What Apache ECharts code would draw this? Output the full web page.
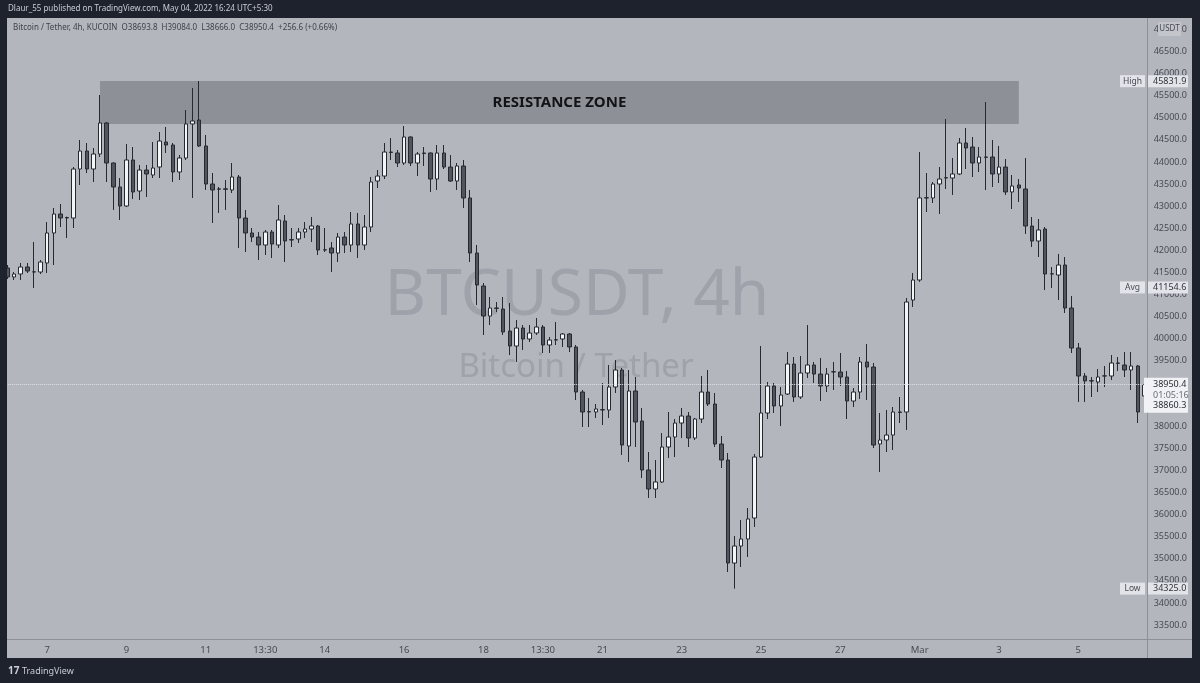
<!DOCTYPE html>
<html><head><meta charset="utf-8">
<script src="https://cdn.jsdelivr.net/npm/echarts@6/dist/echarts.min.js"></script>
<style>html,body{margin:0;padding:0;background:#1e222d;}#c{width:1200px;height:683px;}</style>
</head><body><div id="c"></div>
<script>
// ---- data ----
const symbolTitle = 'Bitcoin / Tether, 4h, KUCOIN';
const publishLine = 'Dlaur_55 published on TradingView.com, May 04, 2022 16:24 UTC+5:30';
const watermarkMain = 'BTCUSDT, 4h';
const watermarkSub = 'Bitcoin / Tether';
const firstCandle = [2022, 1, 6, 1, 30]; // Feb 6 01:30 (chart time, UTC+5:30)
const candleHours = 4;
// [open, close, low, high]
const ohlc = [
[41595,41391,41346,41663],[41391,41459,41323,41504],[41459,41618,41323,41709],[41618,41527,41482,41709],
[41504,41510,41142,42185],[41504,41731,41459,41777],[41709,42389,41482,42638],[42389,42820,41663,42956],
[42820,42729,42525,43047],[42740,42730,42275,42760],[42729,43840,42502,43885],[43840,44248,43477,44498],
[44248,43840,43749,44430],[43840,44180,43545,44316],[44180,44883,44112,45518],[44883,43976,43545,44906],
[43976,43432,42911,43990],[43432,43001,42684,43636],[43001,44044,42979,44407],[44044,43319,43160,44339],
[43341,43817,43137,43931],[43817,43727,43205,43931],[43704,43863,43636,44452],[43885,44475,43636,44679],
[44452,44384,44203,44793],[44384,43772,43545,44430],[43772,44089,43591,44157],[44089,44861,44044,45178],
[44861,44929,43183,45677],[44951,44362,44339,45835],[44362,43500,43364,44611],[43500,43364,42616,43749],
[43380,43390,42843,43432],[43390,43380,42911,43591],[43364,43659,43296,43976],[43659,42729,42049,43704],
[42729,42389,41958,42911],[42389,42298,42185,42502],[42298,42117,41777,42411],[42117,42411,41890,42457],
[42411,42139,41822,42457],[42117,42684,42049,43024],[42661,42207,41731,42797],[42230,42240,42071,42502],
[42253,42411,42162,42502],[42411,42479,42275,42638],[42479,42547,42185,42752],[42547,42003,41890,42570],
[42003,42010,41958,42502],[42049,41935,41504,42185],[41935,42298,41731,42389],[42298,42117,41935,42411],
[42117,42593,41958,42865],[42593,42117,41822,42843],[42117,42525,42003,42797],[42525,43545,42411,43659],
[43568,43681,43409,43817],[43681,44225,43613,44430],[44225,44215,44044,44543],[44203,43976,43885,44271],
[43976,44566,43931,44815],[44566,43976,43908,44580],[43976,44180,43681,44225],[44190,44203,43908,44339],
[44203,43613,43319,44215],[43613,44203,43364,44384],[44203,43885,43840,44384],[43885,43568,43545,44157],
[43568,43908,43364,43976],[43908,43183,42956,44044],[43183,41935,41731,43364],[41935,41210,40756,42117],
[41187,40506,40076,41255],[40506,40688,40302,40937],[40688,40680,40597,40824],[40665,40144,40076,40937],
[40166,39826,39622,40801],[39826,40234,39464,40416],[40234,39985,39736,40302],[39985,40121,39917,40302],
[40121,40257,40076,40461],[40257,39849,39668,40302],[39849,39962,39668,40030],[39962,39970,39849,40370],
[39985,40098,39804,40121],[40098,39804,39690,40121],[39804,38783,38602,39849],[38783,38330,37990,38829],
[38330,38340,37990,38647],[38330,38398,38194,38511],[38375,38385,38035,38987],[38375,38897,38194,39396],
[38897,39282,38761,39509],[39282,37581,37355,39328],[37559,38806,37196,39282],[38806,38103,37536,39123],
[38126,37015,36833,38421],[37015,36584,36380,37423],[36584,36743,36380,37241],[36743,37536,36720,37853],
[37536,37763,37287,38330],[37763,38080,37309,38171],[38080,38239,37740,38421],[38239,37740,37536,38330],
[37740,38171,37695,38194],[38171,38783,38080,39146],[38783,38511,38466,39282],[38511,37604,37536,38761],
[37604,37241,37060,37786],[37241,34905,34701,37400],[34905,35291,34325,35518],[35291,35450,34815,35881],
[35450,35904,35042,36153],[35926,37309,35722,37377],[37309,38307,37287,39826],[38307,38919,38171,39010],
[38919,38466,38307,38987],[38466,38715,38012,38897],[38738,39418,38715,39690],[39418,38670,38557,39577],
[38670,39214,38625,39600],[39214,39396,39101,40302],[39396,39191,38987,39464],[39191,38919,38579,39554],
[38919,39191,38783,39328],[39237,39245,38829,39464],[39237,39123,38919,39668],[39123,38579,38171,39260],
[38579,38783,38443,38874],[38783,39464,38625,39577],[39464,39350,38602,39872],[39350,37581,37513,39441],
[37604,37695,36969,38307],[37695,37808,37423,38375],[37808,38330,37468,38443],[38330,38320,38080,38670],
[38330,40824,37922,40915],[40869,41323,40711,41482],[41323,43183,41280,44225],[43183,43190,42865,43749],
[43183,43500,43069,43545],[43500,43613,42820,43885],[43636,43645,43387,44974],[43636,43727,43251,44089],
[43727,44430,43704,44543],[44430,44316,43840,44770],[44339,43976,43659,44566],[43976,44112,43772,44339],
[44112,44105,43364,45359],[44112,43727,43432,44498],[43727,43885,43523,44362],[43885,43319,43251,44067],
[43319,43455,42933,43704],[43477,43409,43092,43613],[43387,42547,42366,44089],[42547,42207,42071,42752],
[42207,42457,41845,42706],[42479,41459,41096,42525],[41459,41465,41142,41618],[41436,41663,40869,41914],
[41663,40688,40575,41845],[40688,39781,39668,40960],[39781,39146,38557,39894],[39146,39033,38557,39214],
[39033,39040,38670,39123],[39010,39123,38783,39305],[39146,39150,38897,39373],[39146,39441,39055,39622],
[39441,39435,39260,39577],[39396,39282,39123,39690],[39282,39373,38829,39690],[39373,38330,38080,39396],
[38693.8,38950.4,38666.0,39084.0]
];
const lastChange = [256.6, 0.66];
const countdown = '01:05:16';
const secondPrice = 38860.3;
const statHigh = 45831.9, statAvg = 41154.6, statLow = 34325.0;
const zoneFrom = 14, zoneTo = 153, zoneHigh = 45835, zoneLow = 44861;
const zoneText = 'RESISTANCE ZONE';
const tickLabels = {
 '02-07 01:30':'7','02-09 01:30':'9','02-11 01:30':'11','02-12 13:30':'13:30','02-14 01:30':'14',
 '02-16 01:30':'16','02-18 01:30':'18','02-19 13:30':'13:30','02-21 01:30':'21','02-23 01:30':'23',
 '02-25 01:30':'25','02-27 01:30':'27','03-01 01:30':'Mar','03-03 01:30':'3','03-05 01:30':'5'
};
const priceMin = 33000, priceMax = 47500, priceStep = 500;

// ---- categories ----
const pad = n => String(n).padStart(2, '0');
const t0 = Date.UTC(...firstCandle);
const categories = ohlc.map((_, i) => {
  const d = new Date(t0 + i * candleHours * 3600000);
  return pad(d.getUTCMonth() + 1) + '-' + pad(d.getUTCDate()) + ' ' + pad(d.getUTCHours()) + ':' + pad(d.getUTCMinutes());
});
const last = ohlc[ohlc.length - 1];

const FONT = '"Noto Sans", sans-serif';
const BG = '#b4b6be', FRAME = '#1e222d', AXIS = '#8d9098', TXT = '#474a53';

const chart = echarts.init(document.getElementById('c'), null, {renderer: 'canvas'});
const baseGraphic = [
  {type: 'text', z: 0, silent: true,
   style: {text: watermarkMain, x: 577, y: 297, align: 'center', verticalAlign: 'middle', fill: '#9fa2aa', font: '64px ' + FONT}},
  {type: 'text', z: 0, silent: true,
   style: {text: watermarkSub, x: 576, y: 368, align: 'center', verticalAlign: 'middle', fill: '#9fa2aa', font: '33px ' + FONT}}
];
const option = {
  backgroundColor: BG,
  animation: false,
  grid: {left: 4.2, right: 52.3, top: 7.6, bottom: 35.95, outerBoundsMode: 'none'},
  xAxis: {
    type: 'category', data: categories, boundaryGap: true, offset: -8.05,
    axisLine: {show: true, lineStyle: {color: AXIS, width: 1}},
    axisTick: {show: false},
    splitLine: {show: false},
    axisLabel: {
      interval: (idx, val) => Object.prototype.hasOwnProperty.call(tickLabels, val),
      formatter: val => tickLabels[val] || '',
      color: TXT, fontSize: 9.5, fontFamily: FONT, margin: 6
    }
  },
  yAxis: {
    type: 'value', position: 'right', min: priceMin, max: priceMax, interval: priceStep,
    axisLine: {show: true, lineStyle: {color: AXIS, width: 1}},
    axisTick: {show: false},
    splitLine: {show: false},
    axisLabel: {
      formatter: v => v.toFixed(1), color: TXT, fontSize: 9, fontFamily: FONT, margin: 6,
      showMinLabel: false, showMaxLabel: false
    }
  },
  series: [{
    type: 'candlestick',
    data: ohlc,
    barWidth: 4,
    itemStyle: {
      color: '#f4f5f7', color0: '#52555e',
      borderColor: '#26292f', borderColor0: '#26292f', borderWidth: 1
    },
    markLine: {
      silent: true, symbol: ['none', 'none'], animation: false,
      label: {show: false},
      lineStyle: {type: 'dotted', color: '#dfe1e6', width: 1},
      data: [{yAxis: last[1]}]
    },
    markArea: {
      silent: true,
      itemStyle: {color: '#8e9097'},
      label: {show: true, position: 'inside', color: '#121317', fontSize: 15, fontWeight: 'bold', fontFamily: FONT},
      data: [[{name: zoneText, xAxis: categories[zoneFrom], yAxis: zoneHigh}, {xAxis: categories[zoneTo], yAxis: zoneLow}]]
    }
  }],
  graphic: baseGraphic
};
chart.setOption(option);

const py = v => chart.convertToPixel({yAxisIndex: 0}, v);
const g = [];
// frame
g.push({type: 'rect', z: 100, shape: {x: 0, y: 0, width: 1200, height: 18}, style: {fill: FRAME}});
g.push({type: 'rect', z: 100, shape: {x: 0, y: 0, width: 7, height: 683}, style: {fill: FRAME}});
g.push({type: 'rect', z: 100, shape: {x: 0, y: 658, width: 1200, height: 25}, style: {fill: FRAME}});
g.push({type: 'rect', z: 100, shape: {x: 1192, y: 0, width: 8, height: 683}, style: {fill: FRAME}});
g.push({type: 'line', z: 99, shape: {x1: 1147, y1: 639.5, x2: 1192, y2: 639.5}, style: {stroke: AXIS, lineWidth: 1}});
g.push({type: 'line', z: 99, shape: {x1: 1147.5, y1: 639, x2: 1147.5, y2: 658}, style: {stroke: AXIS, lineWidth: 1}});
// header texts
g.push({type: 'text', z: 101, style: {text: publishLine, x: 8, y: 9, verticalAlign: 'middle', fill: '#c9ccd4', font: '8px ' + FONT}});
const legendText = symbolTitle + '  O' + last[0].toFixed(1) + '  H' + last[3].toFixed(1) + '  L' + last[2].toFixed(1) +
  '  C' + last[1].toFixed(1) + '  +' + lastChange[0].toFixed(1) + ' (+' + lastChange[1].toFixed(2) + '%)';
g.push({type: 'text', z: 101, style: {text: legendText, x: 13, y: 28, verticalAlign: 'middle', fill: '#3f424b', font: '8px ' + FONT}});
// logo
g.push({type: 'text', z: 101, style: {text: '17', x: 8, y: 671, verticalAlign: 'middle', fill: '#c9ccd4', font: 'bold 10px ' + FONT}});
g.push({type: 'text', z: 101, style: {text: 'TradingView', x: 22, y: 671, verticalAlign: 'middle', fill: '#c9ccd4', font: '9px ' + FONT}});
// USDT box
g.push({type: 'rect', z: 90, shape: {x: 1158, y: 22, width: 23, height: 14}, style: {fill: '#c3c5cb'}});
g.push({type: 'text', z: 91, style: {text: 'USDT', x: 1169.5, y: 29, align: 'center', verticalAlign: 'middle', fill: TXT, font: '8px ' + FONT}});
// stat tags
function tag(name, v) {
  const y = py(v);
  g.push({type: 'rect', z: 90, shape: {x: 1120, y: y - 6, width: 25, height: 12}, style: {fill: '#e2e4e9'}});
  g.push({type: 'text', z: 91, style: {text: name, x: 1132.5, y: y, align: 'center', verticalAlign: 'middle', fill: TXT, font: '8.5px ' + FONT}});
  g.push({type: 'rect', z: 90, shape: {x: 1148, y: y - 6, width: 40, height: 12}, style: {fill: '#e2e4e9'}});
  g.push({type: 'text', z: 91, style: {text: v.toFixed(1), x: 1153, y: y, verticalAlign: 'middle', fill: '#30333b', font: '9px ' + FONT}});
}
tag('High', statHigh); tag('Avg', statAvg); tag('Low', statLow);
// last price box
const yl = py(last[1]);
g.push({type: 'rect', z: 90, shape: {x: 1144, y: yl - 7, width: 44, height: 35}, style: {fill: '#f1f2f5'}});
g.push({type: 'text', z: 91, style: {text: last[1].toFixed(1), x: 1153, y: yl, verticalAlign: 'middle', fill: '#2a2d35', font: '9px ' + FONT}});
g.push({type: 'text', z: 91, style: {text: countdown, x: 1153, y: yl + 10.5, verticalAlign: 'middle', fill: '#6a6d76', font: '9px ' + FONT}});
g.push({type: 'text', z: 91, style: {text: secondPrice.toFixed(1), x: 1153, y: yl + 21, verticalAlign: 'middle', fill: '#2a2d35', font: '9px ' + FONT}});
chart.setOption({graphic: baseGraphic.concat(g)});
</script></body></html>
